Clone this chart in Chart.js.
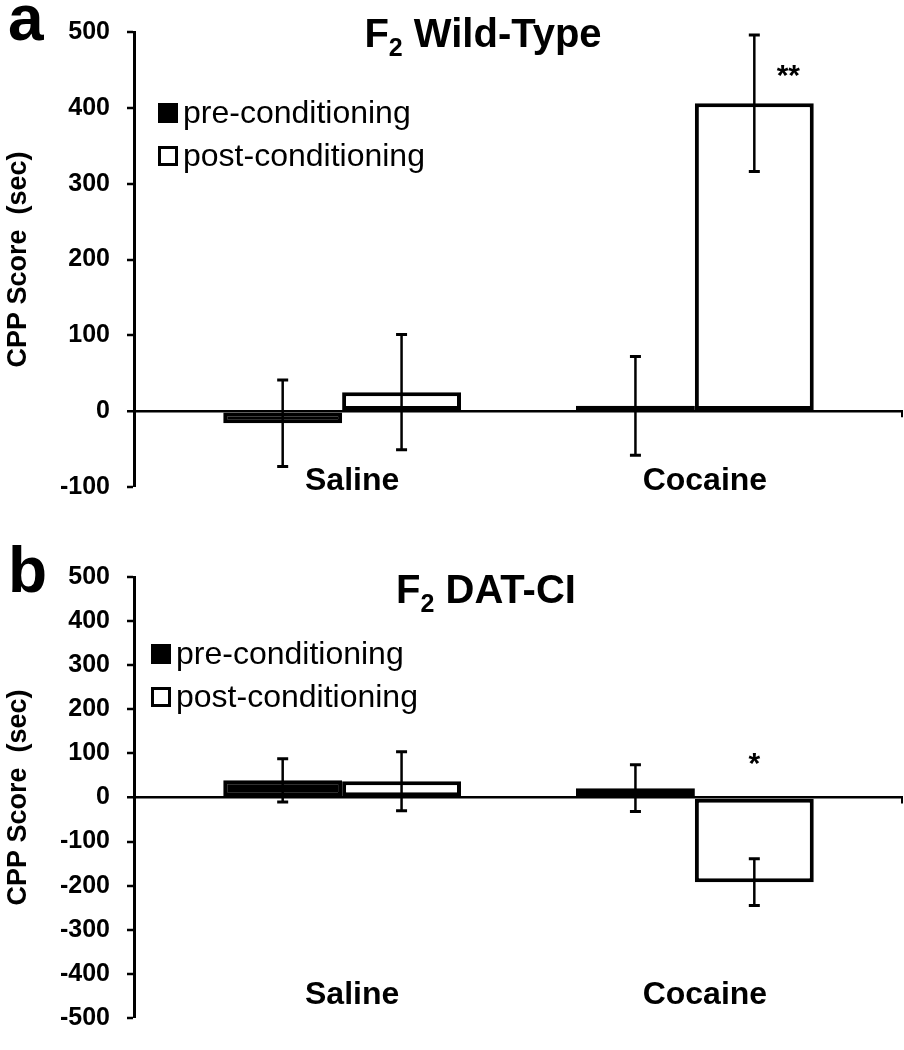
<!DOCTYPE html>
<html>
<head>
<meta charset="utf-8">
<script src="https://cdn.jsdelivr.net/npm/chart.js@4.4.1/dist/chart.umd.min.js"></script>
<style>
html, body { margin: 0; padding: 0; background: #fff; }
.panel { position: relative; width: 904px; }
#pa { height: 530px; }
#pb { height: 520px; }
</style>
</head>
<body>
<div class="panel" id="pa"><canvas id="chartA"></canvas></div>
<div class="panel" id="pb"><canvas id="chartB"></canvas></div>
<script>
const CATEGORIES = ['Saline', 'Cocaine'];
const SERIES = ['pre-conditioning', 'post-conditioning'];

// panel a - F2 wild-type
const WT_PRE = [-16, 7];
const WT_PRE_ERR = [57, 65];
const WT_POST = [25, 406];
const WT_POST_ERR = [76, 90];
const WT_TICKS = [-100, 0, 100, 200, 300, 400, 500];

// panel b - F2 DAT-CI
const DAT_PRE = [39, 21];
const DAT_PRE_ERR = [49, 53];
const DAT_POST = [37, -192];
const DAT_POST_ERR = [67, 53];
const DAT_TICKS = [-500, -400, -300, -200, -100, 0, 100, 200, 300, 400, 500];

Chart.defaults.font.family = "'Liberation Sans', Arial, sans-serif";
Chart.defaults.color = '#000';

// error bars, legend, titles, significance marks
const decor = {
  id: 'decor',
  afterDatasetsDraw(chart, args, p) {
    const { ctx, chartArea, scales: { y } } = chart;
    ctx.save();
    ctx.strokeStyle = '#000';
    ctx.fillStyle = '#000';

    chart.data.datasets.forEach((ds, i) => {
      chart.getDatasetMeta(i).data.forEach((bar, j) => {
        const v = ds.data[j].y, e = ds.err[j];
        const top = y.getPixelForValue(v + e), bot = y.getPixelForValue(v - e);
        ctx.lineWidth = 2.5;
        ctx.beginPath(); ctx.moveTo(bar.x, top); ctx.lineTo(bar.x, bot); ctx.stroke();
        ctx.lineWidth = 3;
        ctx.beginPath();
        ctx.moveTo(bar.x - 5.5, top); ctx.lineTo(bar.x + 5.5, top);
        ctx.moveTo(bar.x - 5.5, bot); ctx.lineTo(bar.x + 5.5, bot);
        ctx.stroke();
      });
    });

    // little tick at the right end of the zero line
    const y0 = y.getPixelForValue(0);
    ctx.lineWidth = 2;
    ctx.beginPath(); ctx.moveTo(chartArea.right - 1, y0); ctx.lineTo(chartArea.right - 1, y0 + 6); ctx.stroke();

    // significance
    const m = p.mark;
    const mb = chart.getDatasetMeta(m.dataset).data[m.index];
    ctx.font = 'bold 30px "Liberation Sans", Arial, sans-serif';
    ctx.textAlign = 'center';
    ctx.textBaseline = 'alphabetic';
    ctx.fillText(m.text, mb.x + m.dx, y.getPixelForValue(m.value));

    // legend
    const lg = p.legend;
    ctx.font = '32px "Liberation Sans", Arial, sans-serif';
    ctx.textAlign = 'left';
    ctx.textBaseline = 'middle';
    SERIES.forEach((s, i) => {
      const cy = lg.y + i * lg.gap;
      if (i === 0) {
        ctx.fillRect(lg.x, cy - 10, 20, 20);
      } else {
        ctx.fillStyle = '#fff';
        ctx.fillRect(lg.x, cy - 10, 20, 20);
        ctx.fillStyle = '#000';
        ctx.lineWidth = 3;
        ctx.strokeRect(lg.x + 1.5, cy - 8.5, 17, 17);
      }
      ctx.fillText(s, lg.x + 25, cy + 1);
    });

    // title with subscript
    const t = p.title;
    ctx.textBaseline = 'alphabetic';
    const big = 'bold 40px "Liberation Sans", Arial, sans-serif';
    const small = 'bold 25px "Liberation Sans", Arial, sans-serif';
    ctx.font = big;
    const w1 = ctx.measureText(t.main).width, w3 = ctx.measureText(t.rest).width;
    ctx.font = small;
    const w2 = ctx.measureText(t.sub).width;
    let tx = t.cx - (w1 + w2 + w3) / 2;
    ctx.font = big; ctx.fillText(t.main, tx, t.base); tx += w1;
    ctx.font = small; ctx.fillText(t.sub, tx, t.base + 9); tx += w2;
    ctx.font = big; ctx.fillText(t.rest, tx, t.base);

    // panel letter
    ctx.font = 'bold 64px "Liberation Sans", Arial, sans-serif';
    ctx.fillText(p.letter.text, p.letter.x, p.letter.base);
    ctx.restore();
  }
};

function makePanel(id, p) {
  const pts = arr => arr.map((v, i) => ({ x: i + 1, y: v }));
  return new Chart(document.getElementById(id), {
    type: 'bar',
    data: {
      datasets: [
        { label: SERIES[0], data: pts(p.pre), err: p.preErr, backgroundColor: '#000', borderColor: '#000' },
        { label: SERIES[1], data: pts(p.post), err: p.postErr, backgroundColor: '#fff', borderColor: '#000' }
      ]
    },
    options: {
      responsive: true,
      maintainAspectRatio: false,
      animation: false,
      layout: { padding: { top: p.padTop, bottom: p.padBottom, left: 0, right: 1 } },
      datasets: { bar: { borderWidth: 4, borderSkipped: false, categoryPercentage: 0.674, barPercentage: 1 } },
      plugins: {
        legend: { display: false },
        tooltip: { enabled: false },
        decor: p.decor
      },
      scales: {
        x: {
          type: 'linear',
          offset: false,
          min: 0.41,
          max: 2.59,
          afterBuildTicks: s => { s.ticks = CATEGORIES.map((c, i) => ({ value: i + 1 })); },
          afterFit: s => { s.height = 0; },
          grid: { display: false, drawTicks: false },
          border: { display: false },
          ticks: {
            callback: v => CATEGORIES[v - 1],
            mirror: true,
            padding: p.labelPad,
            labelOffset: 10,
            autoSkip: false,
            maxRotation: 0,
            color: '#000',
            font: { size: 32, weight: 'bold' }
          }
        },
        y: {
          min: p.ticks[0],
          max: p.ticks[p.ticks.length - 1],
          afterFit: s => { s.width = 134; },
          border: { color: '#000', width: 3 },
          grid: {
            color: c => (c.tick && c.tick.value === 0) ? '#000' : 'rgba(0,0,0,0)',
            lineWidth: c => (c.tick && c.tick.value === 0) ? 2.5 : 0,
            tickColor: '#000',
            tickWidth: 2.5,
            tickLength: 7
          },
          ticks: {
            stepSize: 100,
            padding: 17,
            color: '#000',
            font: { size: 25, weight: 'bold' }
          },
          title: {
            display: true,
            text: 'CPP Score  (sec)',
            color: '#000',
            padding: { top: 2, bottom: 0 },
            font: { size: 27, weight: 'bold' }
          }
        }
      }
    },
    plugins: [decor]
  });
}

makePanel('chartA', {
  pre: WT_PRE, preErr: WT_PRE_ERR, post: WT_POST, postErr: WT_POST_ERR, ticks: WT_TICKS,
  padTop: 25, padBottom: 43, labelPad: -13,
  decor: {
    mark: { dataset: 1, index: 1, text: '**', value: 430, dx: 34 },
    legend: { x: 158, y: 113, gap: 43 },
    title: { main: 'F', sub: '2', rest: ' Wild-Type', cx: 483, base: 47 },
    letter: { text: 'a', x: 8, base: 40 }
  }
});

makePanel('chartB', {
  pre: DAT_PRE, preErr: DAT_PRE_ERR, post: DAT_POST, postErr: DAT_POST_ERR, ticks: DAT_TICKS,
  padTop: 47, padBottom: 10, labelPad: 4,
  decor: {
    mark: { dataset: 1, index: 1, text: '*', value: 56, dx: 0 },
    legend: { x: 151, y: 124, gap: 43 },
    title: { main: 'F', sub: '2', rest: ' DAT-CI', cx: 486, base: 73 },
    letter: { text: 'b', x: 8, base: 62 }
  }
});
</script>
</body>
</html>
